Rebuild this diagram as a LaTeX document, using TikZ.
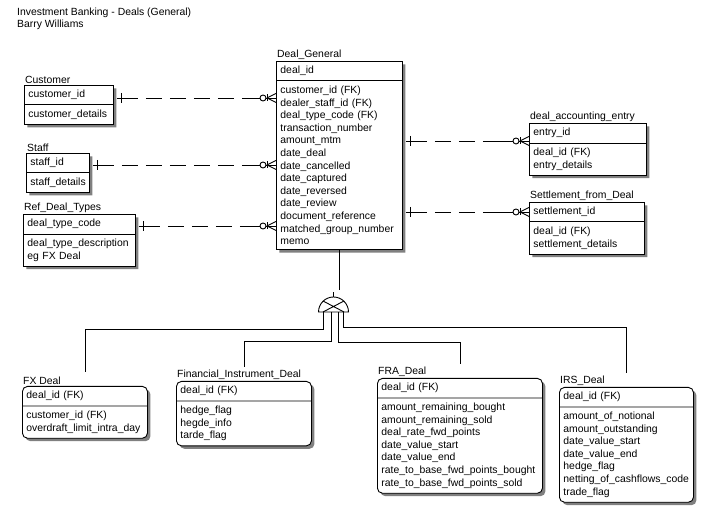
\documentclass[tikz,border=0pt]{standalone}
\usepackage{fontspec}
\setmainfont{Liberation Sans}
\usetikzlibrary{shapes.multipart,shadows}
\newcommand{\erfont}{\fontsize{10.4}{12.6}\selectfont}

\tikzset{
  rel/.style={line width=0.9pt},
  reldash/.style={rel, dash pattern=on 16pt off 8pt, dash phase=16pt},
  entity/.style={rectangle split, rectangle split parts=2, draw, fill=white,
    line width=0.9pt, anchor=north west, align=left,
    inner xsep=4pt, inner ysep=4.5pt,
    drop shadow={shadow xshift=3pt, shadow yshift=-3pt, opacity=1, fill=black!50}},
  subentity/.style={entity, rounded corners=5pt},
  elabel/.style={anchor=south west, inner xsep=1pt, inner ysep=1pt},
}

\begin{document}
\begin{tikzpicture}[x=1pt, y=1pt, font=\erfont]
\useasboundingbox (0,0) rectangle (720,526);
% heading
\node[anchor=base west, inner sep=0pt] (title) at (17,510) {Investment Banking - Deals (General)};
\node[anchor=base west, inner sep=0pt] (author) at (17,498) {Barry Williams};

% left side
\node[entity, text width=81pt, label={[elabel]north west:Customer}] (customer) at (24,441)
  {customer\_id \nodepart{second} customer\_details};
\node[entity, text width=55pt, label={[elabel]north west:Staff}] (staff) at (26,373)
  {staff\_id \nodepart{second} staff\_details};
\node[entity, text width=104pt, label={[elabel]north west:Ref\_Deal\_Types}] (refdealtypes) at (23,312)
  {deal\_type\_code \nodepart{second} deal\_type\_description\\ eg FX Deal};

% the deal itself
\node[entity, text width=118pt, label={[elabel]north west:Deal\_General}] (dealgeneral) at (276,465)
  {deal\_id \nodepart{second} customer\_id (FK)\\ dealer\_staff\_id (FK)\\ deal\_type\_code (FK)\\
   transaction\_number\\ amount\_mtm\\ date\_deal\\ date\_cancelled\\ date\_captured\\
   date\_reversed\\ date\_review\\ document\_reference\\ matched\_group\_number\\ memo};

% right side
\node[entity, text width=109pt, label={[elabel]north west:deal\_accounting\_entry}] (dealaccountingentry) at (529,403)
  {entry\_id \nodepart{second} deal\_id (FK)\\ entry\_details};
\node[entity, text width=107pt, label={[elabel]north west:Settlement\_from\_Deal}] (settlement) at (529,324)
  {settlement\_id \nodepart{second} deal\_id (FK)\\ settlement\_details};

% sub-types
\node[subentity, text width=117pt, label={[elabel]north west:FX Deal}] (fxdeal) at (22,140)
  {deal\_id (FK) \nodepart{second} customer\_id (FK)\\ overdraft\_limit\_intra\_day};
\node[subentity, text width=127pt, label={[elabel]north west:Financial\_Instrument\_Deal}] (financialinstrument) at (176,145)
  {deal\_id (FK) \nodepart{second} hedge\_flag\\ hegde\_info\\ tarde\_flag};
\node[subentity, text width=157pt, label={[elabel]north west:FRA\_Deal}] (fradeal) at (377,148)
  {deal\_id (FK) \nodepart{second} amount\_remaining\_bought\\ amount\_remaining\_sold\\
   deal\_rate\_fwd\_points\\ date\_value\_start\\ date\_value\_end\\
   rate\_to\_base\_fwd\_points\_bought\\ rate\_to\_base\_fwd\_points\_sold};
\node[subentity, text width=126pt, label={[elabel]north west:IRS\_Deal}] (irsdeal) at (559,139)
  {deal\_id (FK) \nodepart{second} amount\_of\_notional\\ amount\_outstanding\\
   date\_value\_start\\ date\_value\_end\\ hedge\_flag\\ netting\_of\_cashflows\_code\\ trade\_flag};

% one to zero-or-many
\foreach \one/\many/\ry in {customer/dealgeneral/428, staff/dealgeneral/361,
    refdealtypes/dealgeneral/300, dealgeneral/dealaccountingentry/385, dealgeneral/settlement/314}{
  \coordinate (one) at (\one.east |- 0,\ry);
  \coordinate (many) at (\many.west |- 0,\ry);
  \draw[rel] ([xshift=3pt]one) -- ([xshift=24pt]one);
  \draw[rel] ([xshift=8pt, yshift=5pt]one) -- ([xshift=8pt, yshift=-5pt]one);
  \draw[reldash] ([xshift=24pt]one) -- ([xshift=-32pt]many);
  \draw[rel] ([xshift=-32pt]many) -- ([xshift=-16pt]many);
  \draw[rel] ([xshift=-13pt]many) circle[radius=3pt];
  \draw[rel] ([xshift=-10pt]many) -- (many);
  \draw[rel] ([xshift=-9pt, yshift=3.5pt]many) -- ([xshift=-9pt, yshift=-3.5pt]many);
  \draw[rel] ([xshift=-9pt]many) -- ([yshift=4.5pt]many)
             ([xshift=-9pt]many) -- ([yshift=-4.5pt]many);
}

% category symbol
\coordinate (cat) at (333.5,214);
\draw[rel] (dealgeneral.south) -- (dealgeneral.south |- 0,236);
\draw[rel] ([xshift=-15pt]cat) arc[start angle=180, end angle=0, radius=15pt] -- cycle;
\draw[rel] ([yshift=15pt]cat) -- ([yshift=20pt]cat);
\draw[rel] ([shift={(-10.5pt,11pt)}]cat) -- ([xshift=10.5pt]cat)
           ([shift={(10.5pt,11pt)}]cat) -- ([xshift=-10.5pt]cat);
\draw[rel] ([xshift=-10.5pt]cat) -- ++(0,-17) -| ([yshift=14pt]fxdeal.north);
\draw[rel] ([xshift=-2.5pt]cat) -- ++(0,-29) -| ([yshift=14pt]financialinstrument.north);
\draw[rel] ([xshift=4.5pt]cat) -- ++(0,-30) -| ([yshift=14pt]fradeal.north);
\draw[rel] ([xshift=9.5pt]cat) -- ++(0,-15) -| ([yshift=14pt]irsdeal.north);
\end{tikzpicture}
\end{document}
